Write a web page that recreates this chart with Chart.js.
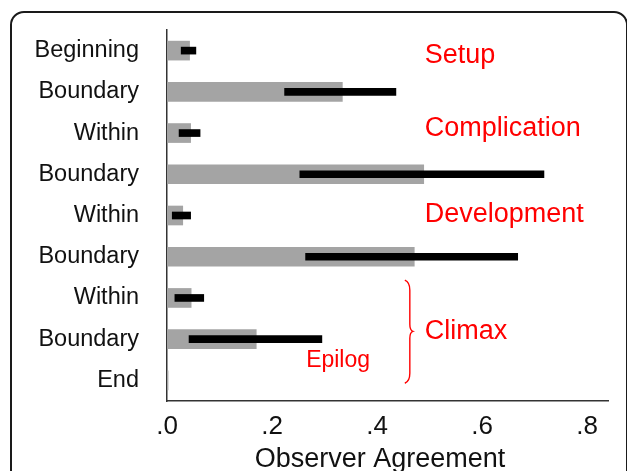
<!DOCTYPE html>
<html>
<head>
<meta charset="utf-8">
<script src="https://cdn.jsdelivr.net/npm/chart.js@4"></script>
<style>
  html, body { margin: 0; padding: 0; background: #fff; overflow: hidden; }
  #frame { position: absolute; left: 10px; top: 11px; width: 618px; height: 500px;
           border: 2px solid #1a1a1a; border-radius: 14px; box-sizing: border-box; }
  #chart { position: absolute; left: 0; top: 0; }
</style>
</head>
<body>
<div id="frame"></div>
<canvas id="chart" width="627" height="471"></canvas>
<script>
const categories = ['Beginning', 'Boundary', 'Within', 'Boundary', 'Within', 'Boundary', 'Within', 'Boundary', 'End'];
const agreement = [0.043, 0.334, 0.045, 0.489, 0.030, 0.471, 0.046, 0.170, 0.002];
const rangeLow = [0.027, 0.224, 0.023, 0.253, 0.010, 0.264, 0.015, 0.042, null];
const rangeHigh = [0.055, 0.436, 0.063, 0.718, 0.045, 0.668, 0.070, 0.295, null];
const tickValues = [0, 0.2, 0.4, 0.6, 0.8];
const tickLabels = ['.0', '.2', '.4', '.6', '.8'];
const phaseNames = ['Setup', 'Complication', 'Development', 'Climax', 'Epilog'];

// where the red phase labels sit (value on x, fractional row on y)
const phaseX = [0.491, 0.491, 0.491, 0.491, 0.265];
const phaseRow = [0.11, 1.88, 3.97, 6.81, 7.53];
const phaseSize = [27, 27, 27, 27, 23];

const FONT = "'Liberation Sans', Arial, sans-serif";

const ranges = rangeLow.map((lo, i) => lo === null ? null : [lo, rangeHigh[i]]);

const phasePlugin = {
  id: 'phases',
  afterDatasetsDraw(chart) {
    const {ctx, scales: {x, y}} = chart;
    ctx.save();
    ctx.fillStyle = '#ff0000';
    ctx.textAlign = 'left';
    ctx.textBaseline = 'middle';
    phaseNames.forEach((name, i) => {
      ctx.font = phaseSize[i] + 'px ' + FONT;
      ctx.fillText(name, x.getPixelForValue(phaseX[i]), y.getPixelForValue(phaseRow[i]));
    });
    // brace around the climax rows
    const bx = x.getPixelForValue(0.453);
    const top = y.getPixelForValue(5.57);
    const bot = y.getPixelForValue(8.07);
    const mid = y.getPixelForValue(6.81);
    ctx.strokeStyle = '#ff0000';
    ctx.lineWidth = 1.4;
    ctx.beginPath();
    ctx.moveTo(bx, top);
    ctx.quadraticCurveTo(bx + 5, top + 2, bx + 5, top + 10);
    ctx.lineTo(bx + 5, mid - 7);
    ctx.quadraticCurveTo(bx + 5, mid - 1, bx + 8, mid);
    ctx.quadraticCurveTo(bx + 5, mid + 1, bx + 5, mid + 7);
    ctx.lineTo(bx + 5, bot - 10);
    ctx.quadraticCurveTo(bx + 5, bot - 2, bx, bot);
    ctx.stroke();
    ctx.restore();
  }
};

new Chart(document.getElementById('chart'), {
  type: 'bar',
  data: {
    labels: categories,
    datasets: [
      {
        label: 'Range',
        data: ranges,
        backgroundColor: '#000000',
        barThickness: 7,
        grouped: false,
        order: 0
      },
      {
        label: 'Observer Agreement',
        data: agreement,
        backgroundColor: '#a4a4a4',
        barThickness: 19,
        grouped: false,
        order: 1
      }
    ]
  },
  options: {
    indexAxis: 'y',
    responsive: false,
    animation: false,
    layout: { padding: { left: 0, right: 19, top: 30, bottom: 0 } },
    plugins: {
      legend: { display: false },
      tooltip: { enabled: false }
    },
    scales: {
      x: {
        min: 0,
        max: 0.84,
        afterBuildTicks: scale => { scale.ticks = tickValues.map(v => ({ value: v })); },
        afterFit: scale => {
          scale.height = 70;
          scale.paddingLeft = 0;
          scale.paddingRight = 0;
        },
        grid: { display: false, drawTicks: false },
        border: { display: true, color: '#333333', width: 1.5 },
        ticks: {
          padding: 10,
          color: '#111111',
          font: { family: FONT, size: 26 },
          callback: (v, i) => tickLabels[i]
        },
        title: {
          display: true,
          text: 'Observer Agreement  ',
          color: '#111111',
          font: { family: FONT, size: 27, lineHeight: 1 },
          padding: { top: 0, bottom: -2 }
        }
      },
      y: {
        afterFit: scale => {
          scale.width = 167;
          scale.paddingTop = 0;
          scale.paddingBottom = 0;
        },
        grid: { display: false, drawTicks: false },
        border: { display: true, color: '#333333', width: 1.5 },
        ticks: {
          padding: 28,
          color: '#111111',
          font: { family: FONT, size: 23.5 }
        }
      }
    }
  },
  plugins: [phasePlugin]
});
</script>
</body>
</html>
